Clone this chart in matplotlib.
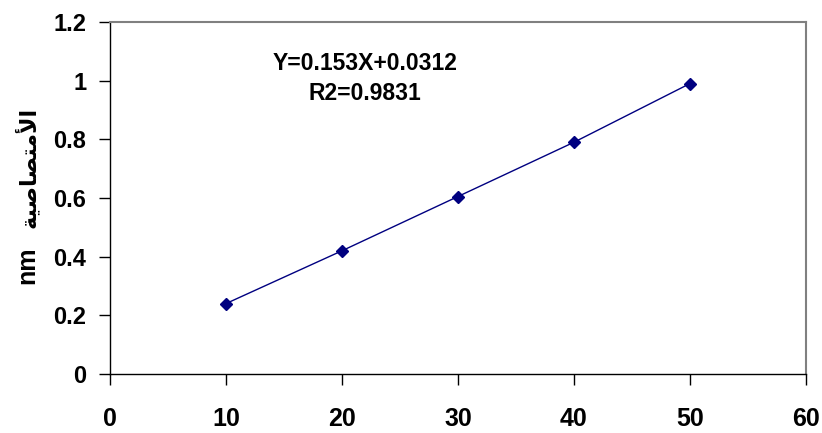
import matplotlib
matplotlib.use('Agg')
import matplotlib.pyplot as plt

# data
conc = [10, 20, 30, 40, 50]
absorb = [0.24, 0.42, 0.605, 0.79, 0.99]
xticks = [0, 10, 20, 30, 40, 50, 60]
yticks = [0, 0.2, 0.4, 0.6, 0.8, 1.0, 1.2]
yticklabels = ['0', '0.2', '0.4', '0.6', '0.8', '1', '1.2']

eq_text = 'Y=0.153X+0.0312'
r2_text = 'R2=0.9831'
unit_label = 'nm'
# "الأمتصاصية" written with presentation forms in visual order (matplotlib does no shaping)
ar_label = '\uFE94\uFEF4\uFEBB\uFE8E\uFEBC\uFE98\uFEE3\uFEF7\uFE8D'

plt.rcParams['font.family'] = ['Liberation Sans', 'DejaVu Sans']
plt.rcParams['font.weight'] = 'bold'

fig = plt.figure(figsize=(8.22, 4.33), dpi=100)
ax = fig.add_axes([0.1338, 0.1363, 0.8467, 0.813])

ax.plot(conc, absorb, color='#000080', linewidth=1, marker='D', markersize=6,
        markerfacecolor='#000080', markeredgecolor='#000080')

ax.set_xlim(0, 60)
ax.set_ylim(0, 1.2)
ax.set_xticks(xticks)
ax.set_xticklabels([str(v) for v in xticks], fontsize=18, fontweight='bold')
ax.set_yticks(yticks)
ax.set_yticklabels(yticklabels, fontsize=17, fontweight='bold')
ax.tick_params(axis='x', direction='out', length=8, width=1, pad=16)
ax.tick_params(axis='y', direction='out', length=8, width=1, pad=9)

for s in ['left', 'bottom']:
    ax.spines[s].set_color('black')
    ax.spines[s].set_linewidth(1)
for s in ['top', 'right']:
    ax.spines[s].set_color('#808080')
    ax.spines[s].set_linewidth(1.5)

ax.text(0.366, 0.882, eq_text, transform=ax.transAxes, ha='center', va='center',
        fontsize=16.5, fontweight='bold')
ax.text(0.366, 0.797, r2_text, transform=ax.transAxes, ha='center', va='center',
        fontsize=16.5, fontweight='bold')

# y label: "nm" bold below, Arabic word above
fig.text(27 / 822, 1 - 265 / 433, unit_label, rotation=90, ha='center', va='center',
         fontsize=18, fontweight='bold')
fig.text(27 / 822, 1 - 167 / 433, ar_label, rotation=90, ha='center', va='center',
         fontsize=16, fontweight='bold', family=['DejaVu Sans'])

fig.savefig('out.png', dpi=100)
